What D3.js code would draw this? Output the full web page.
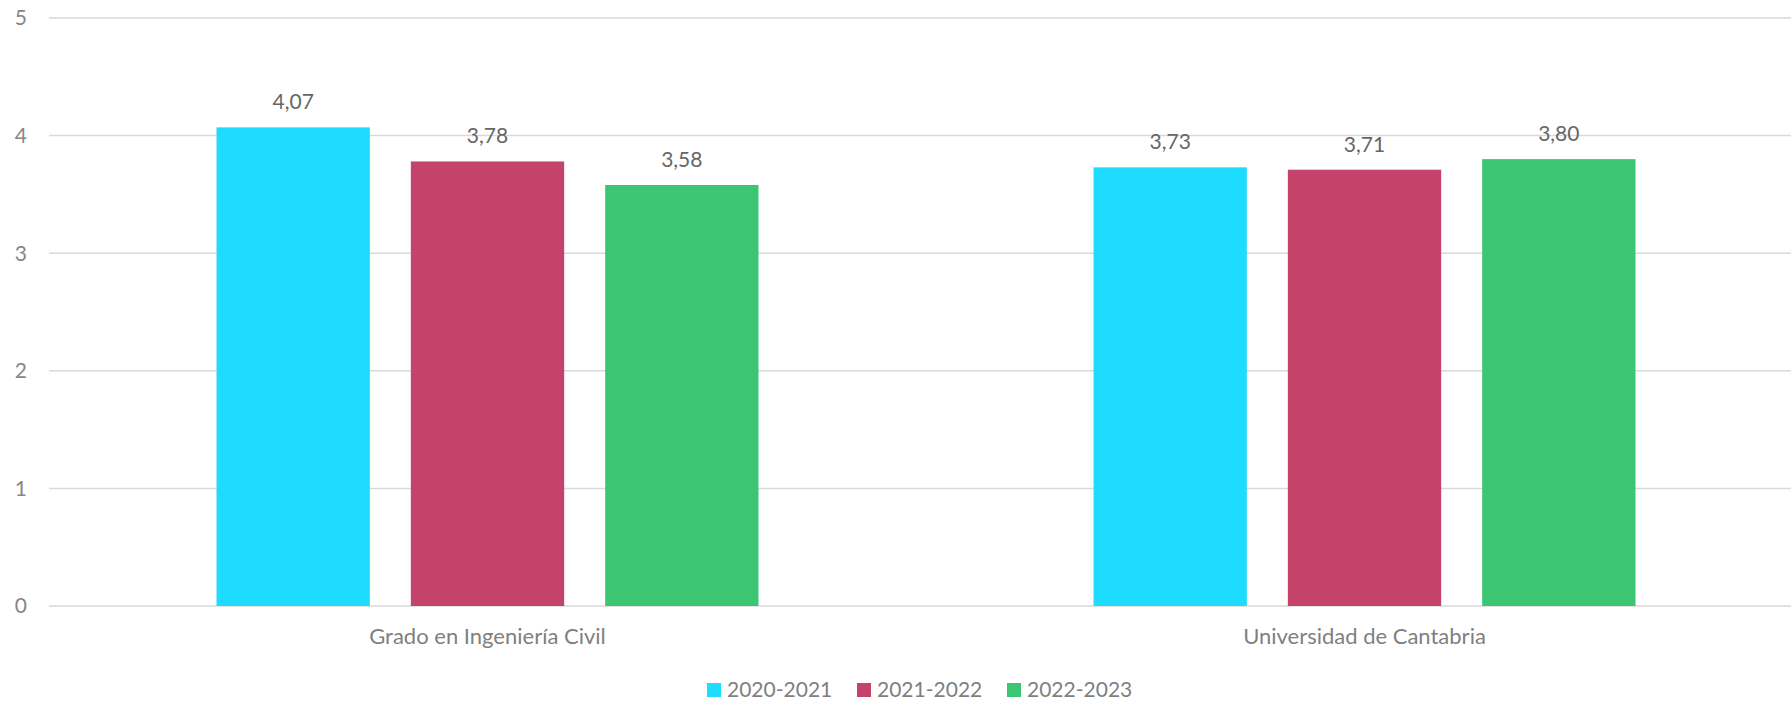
<!DOCTYPE html>
<html>
<head>
<meta charset="utf-8">
<script src="https://cdn.jsdelivr.net/npm/d3@7"></script>
<style>
  html, body { margin: 0; padding: 0; background: #fff; }
  svg { display: block; }
  text { font-family: Lato, "Open Sans", sans-serif; }
</style>
</head>
<body>
<svg id="chart" width="1791" height="701"></svg>
<script>
const categories = ["Grado en Ingeniería Civil", "Universidad de Cantabria"];
const seriesNames = ["2020-2021", "2021-2022", "2022-2023"];
const values2020_2021 = [4.07, 3.73];
const values2021_2022 = [3.78, 3.71];
const values2022_2023 = [3.58, 3.80];
const seriesColors = ["#1DDCFF", "#C5426A", "#3CC674"];
const yTicks = [0, 1, 2, 3, 4, 5];

const seriesValues = [values2020_2021, values2021_2022, values2022_2023];
const fmt = v => d3.format(".2f")(v).replace(".", ",");

const svg = d3.select("#chart");
const plotLeft = 49, plotRight = 1803, plotTop = 18, plotBottom = 606;

const x0 = d3.scaleBand().domain(categories).range([plotLeft, plotRight]).padding(0);
const bw = x0.bandwidth();
const x1 = d3.scaleBand().domain(seriesNames)
  .range([bw * 0.191, bw * 0.809]).paddingInner(0.211).paddingOuter(0);
const y = d3.scaleLinear().domain([0, 5]).range([plotBottom, plotTop]);

// gridlines
svg.append("g").selectAll("line").data(yTicks).join("line")
  .attr("x1", plotLeft).attr("x2", plotRight)
  .attr("y1", d => y(d)).attr("y2", d => y(d))
  .attr("stroke", "#d9d9d9").attr("stroke-width", 1.5);

// y tick labels
svg.append("g").selectAll("text").data(yTicks).join("text")
  .attr("x", 27).attr("y", d => y(d))
  .attr("dy", "0.35em")
  .attr("text-anchor", "end")
  .attr("fill", "#868686")
  .style("font-size", "21px")
  .text(d => d);

// bars
const groups = svg.append("g").selectAll("g").data(categories).join("g")
  .attr("transform", d => `translate(${x0(d)},0)`);

groups.each(function(cat, ci) {
  const g = d3.select(this);
  seriesNames.forEach((s, si) => {
    const v = seriesValues[si][ci];
    g.append("rect")
      .attr("x", x1(s)).attr("width", x1.bandwidth())
      .attr("y", y(v)).attr("height", y(0) - y(v))
      .attr("fill", seriesColors[si]);
    g.append("text")
      .attr("x", x1(s) + x1.bandwidth() / 2)
      .attr("y", y(v) - 18)
      .attr("text-anchor", "middle")
      .attr("fill", "#666666")
      .style("font-size", "21px")
      .text(fmt(v));
  });
});

// category labels
svg.append("g").selectAll("text").data(categories).join("text")
  .attr("x", d => x0(d) + bw / 2)
  .attr("y", 644)
  .attr("text-anchor", "middle")
  .attr("fill", "#7f7f7f")
  .style("font-size", "22px")
  .text(d => d);

// legend
const legend = svg.append("g");
const legStart = 707, legStep = 150;
seriesNames.forEach((s, i) => {
  const lx = legStart + i * legStep;
  legend.append("rect")
    .attr("x", lx).attr("y", 683).attr("width", 14).attr("height", 14)
    .attr("fill", seriesColors[i]);
  legend.append("text")
    .attr("x", lx + 20).attr("y", 697)
    .attr("fill", "#7f7f7f")
    .style("font-size", "21px")
    .text(s);
});
</script>
</body>
</html>
